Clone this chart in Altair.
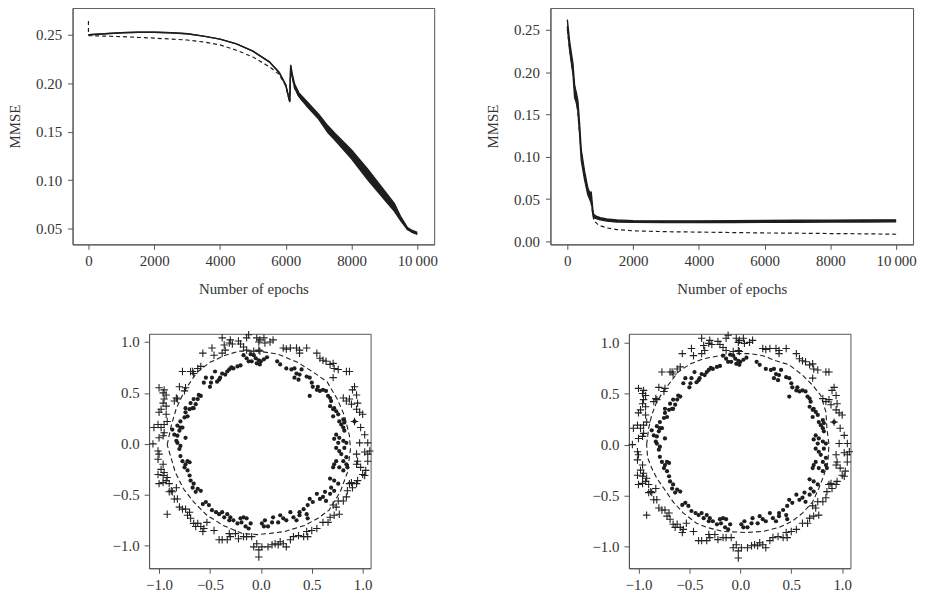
import altair as alt
import pandas as pd

FONT = "Liberation Serif"
INK = "#1e1e1e"
FRAME = "#555555"
TXT = "#333333"

# ---------------- top-left panel (MMSE vs epochs) ----------------
tl_epoch = [0, 20, 500, 1000, 1500, 2000, 2500, 3000, 3500, 4000, 4500, 5000, 5500, 5800, 6000,
            6120, 6150, 6200, 6270, 6400, 6670, 7000, 7280, 7500, 8000, 8500, 9000, 9300, 9500,
            9700, 9850, 10000]
tl_upper = [0.250, 0.250, 0.251, 0.252, 0.2525, 0.2525, 0.252, 0.251, 0.2485, 0.2455, 0.2405,
            0.233, 0.222, 0.211, 0.198, 0.181, 0.219, 0.209, 0.199, 0.190, 0.180, 0.168, 0.156,
            0.148, 0.131, 0.111, 0.089, 0.076, 0.062, 0.051, 0.048, 0.046]
tl_lower = [0.250, 0.250, 0.251, 0.252, 0.2525, 0.2525, 0.252, 0.251, 0.2485, 0.2455, 0.2405,
            0.233, 0.222, 0.211, 0.198, 0.181, 0.217, 0.206, 0.195, 0.186, 0.175, 0.163, 0.149,
            0.141, 0.122, 0.100, 0.080, 0.068, 0.058, 0.049, 0.046, 0.044]
tl_dash_epoch = [0, 0, 20, 1000, 2000, 3000, 3500, 4000, 4500, 5000, 5500, 5800, 6000, 6120, 6150,
                 6200, 6270, 6400, 6670, 7000, 7280, 7500, 8000, 8500, 9000, 9300, 9500, 9700,
                 9850, 10000]
tl_dash = [0.264, 0.250, 0.249, 0.248, 0.2465, 0.2445, 0.2425, 0.2395, 0.234, 0.227, 0.217, 0.209,
           0.197, 0.180, 0.217, 0.206, 0.195, 0.186, 0.176, 0.164, 0.151, 0.143, 0.125, 0.104,
           0.083, 0.071, 0.059, 0.049, 0.046, 0.045]

# ---------------- top-right panel ----------------
tr_epoch = [0, 70, 171, 222, 272, 322, 373, 423, 524, 624, 700, 725, 775, 800, 876, 1000, 1200,
            1500, 2000, 3000, 4000, 5000, 6000, 7000, 8000, 9000, 10000]
tr_upper = [0.262, 0.236, 0.210, 0.184, 0.176, 0.166, 0.139, 0.108, 0.083, 0.063, 0.056, 0.059,
            0.038, 0.032, 0.030, 0.028, 0.0265, 0.0255, 0.0245, 0.0243, 0.0243, 0.0245, 0.0247,
            0.025, 0.0252, 0.0253, 0.0255]
tr_lower = [0.254, 0.226, 0.198, 0.170, 0.164, 0.154, 0.127, 0.096, 0.073, 0.055, 0.048, 0.050,
            0.032, 0.028, 0.027, 0.0255, 0.024, 0.023, 0.0225, 0.0222, 0.0222, 0.0223, 0.0225,
            0.0227, 0.0228, 0.023, 0.0232]
tr_dash_epoch = [0, 100, 200, 300, 400, 500, 600, 700, 790, 800, 900, 1000, 1200, 1500, 2000, 3000,
                 4000, 5000, 6000, 7000, 8000, 9000, 10000]
tr_dash = [0.250, 0.218, 0.190, 0.160, 0.115, 0.082, 0.062, 0.050, 0.030, 0.025, 0.021, 0.0185,
           0.016, 0.014, 0.0125, 0.0115, 0.011, 0.0105, 0.010, 0.0097, 0.0093, 0.009, 0.0085]

# ---------------- scatter data (same in both bottom panels) ----------------
dot_x = [-0.10, -0.07, -0.05, -0.02, 0.00, 0.03, 0.06, -0.14, -0.17, -0.12, -0.09, -0.04, -0.01,
         -0.20, -0.23, -0.27, -0.29, -0.31, -0.33, -0.35, -0.38, -0.40, -0.43, -0.45, -0.48, -0.49,
         -0.50, -0.54, -0.56, -0.41,
         0.16, 0.19, 0.25, 0.30, 0.33, 0.35, 0.38, 0.37, 0.33, 0.40, 0.45, 0.48, 0.50, 0.51, 0.55,
         0.48, 0.56, 0.58, 0.61, 0.64, 0.66, 0.68, 0.69, 0.68, 0.71, 0.72, 0.74, 0.76, 0.71, 0.77,
         0.81, 0.79, 0.82, 0.81, 0.82, 0.74, 0.72, 0.76, 0.77, 0.81, 0.84, 0.74, 0.77, 0.79, 0.82,
         0.84, 0.81, 0.74, 0.72, 0.71, 0.77, 0.81, 0.84, 0.85,
         0.68, 0.72, 0.76, 0.69, 0.72, 0.68, 0.63, 0.61, 0.64, 0.58, 0.55, 0.48, 0.51, 0.46, 0.42,
         0.38, 0.45, 0.46, 0.38, 0.35, 0.32, 0.29, 0.25, 0.22, 0.19, 0.17, 0.12, 0.11, 0.07, 0.03,
         0.04, 0.01,
         -0.10, -0.12, -0.15, -0.19, -0.20, -0.23, -0.27, -0.30, -0.31, -0.33, -0.36, -0.38, -0.41,
         -0.44, -0.48, -0.51, -0.54, -0.57, -0.14, -0.17,
         -0.59, -0.62, -0.64, -0.66, -0.67, -0.69, -0.70, -0.72, -0.75, -0.74, -0.77, -0.72, -0.70,
         -0.79, -0.80, -0.79, -0.83, -0.82, -0.80, -0.74, -0.77, -0.82, -0.79, -0.75, -0.74, -0.70,
         -0.67, -0.66, -0.74, -0.69, -0.66, -0.62, -0.61, -0.59, -0.64, -0.72, -0.79, -0.87, -0.85,
         -0.82, 0.92]
dot_y = [0.88, 0.87, 0.84, 0.82, 0.81, 0.83, 0.85, 0.84, 0.87, 0.81, 0.81, 0.79, 0.78, 0.77, 0.76,
         0.74, 0.75, 0.73, 0.71, 0.68, 0.69, 0.65, 0.61, 0.71, 0.65, 0.60, 0.56, 0.65, 0.60, 0.63,
         0.81, 0.78, 0.74, 0.73, 0.74, 0.69, 0.68, 0.63, 0.65, 0.73, 0.66, 0.65, 0.60, 0.56, 0.53,
         0.47, 0.56, 0.52, 0.53, 0.52, 0.47, 0.45, 0.42, 0.37, 0.34, 0.35, 0.32, 0.29, 0.27, 0.22,
         0.24, 0.19, 0.21, 0.16, 0.13, 0.09, 0.05, 0.01, 0.06, 0.03, 0.01, -0.04, -0.07, -0.10,
         -0.04, -0.13, -0.17, -0.17, -0.20, -0.23, -0.23, -0.26, -0.20, -0.23,
         -0.34, -0.36, -0.39, -0.43, -0.46, -0.49, -0.47, -0.52, -0.56, -0.54, -0.49, -0.54, -0.57,
         -0.60, -0.64, -0.67, -0.69, -0.73, -0.70, -0.75, -0.72, -0.67, -0.75, -0.73, -0.70, -0.77,
         -0.72, -0.77, -0.81, -0.81, -0.75, -0.78,
         -0.78, -0.83, -0.81, -0.77, -0.73, -0.78, -0.75, -0.72, -0.75, -0.69, -0.72, -0.67, -0.69,
         -0.67, -0.65, -0.60, -0.57, -0.59, -0.73, -0.72,
         -0.46, -0.44, -0.47, -0.39, -0.43, -0.36, -0.31, -0.26, -0.23, -0.20, -0.17, -0.17, -0.18,
         -0.12, -0.05, -0.02, 0.03, 0.08, 0.13, 0.06, 0.16, 0.18, 0.22, 0.26, 0.31, 0.34, 0.35, 0.35,
         0.35, 0.40, 0.44, 0.44, 0.48, 0.47, 0.39, 0.27, 0.16, 0.14, 0.09, 0.01, 0.22]

plus_x = [-0.38, -0.30, -0.28, -0.31, -0.22, -0.20, -0.17, -0.14, -0.12, -0.04, -0.02, -0.01, 0.03,
          0.04, 0.09, 0.12, -0.02, -0.01, -0.07, -0.14, -0.35, -0.36, -0.46, -0.48, -0.57, -0.38,
          0.22, 0.25, 0.29, 0.35, 0.38, 0.45, 0.38, 0.55, 0.58, 0.61, 0.64, 0.68, 0.71, 0.72, 0.76,
          0.84, 0.87, 0.71,
          -0.59, -0.62, -0.66, -0.67, -0.77, -0.69, -0.80, -0.75, -0.74, -0.82, -0.85, -0.83, -1.00,
          -0.96, -0.95, -0.93, -0.95, -0.96, -0.93, -1.00, -0.98, -0.93, -1.01, -1.05, -0.98, -0.95,
          -0.92, -0.96, -1.00, -0.95, -1.06, -1.01, -1.00, -1.01, -0.96, -0.98, -1.01, -0.96, -0.95,
          -0.93, -0.96, -0.92, -1.00, -0.90, -0.88, -0.87, -0.83, -0.85, -0.90, -0.82,
          -0.92, -0.80, -0.77, -0.74, -0.70, -0.72, -0.69, -0.66, -0.64, -0.62, -0.59, -0.56, -0.57,
          -0.46, -0.53, -0.41, -0.38, -0.33, -0.30, -0.31, -0.25, -0.22, -0.17, -0.14, -0.09, -0.07,
          -0.04, -0.02, -0.02, 0.01, 0.07, 0.11, 0.14, 0.17, 0.19, 0.22, 0.25, 0.29, 0.32, 0.37,
          0.42, 0.46, 0.45, 0.50, 0.55, 0.61, 0.66, 0.68, 0.72, 0.77, 0.74, 0.71, 0.76, 0.81, 0.84,
          0.85, 0.87, 0.89, 0.90, 0.94, 0.95, 1.00, 1.02, 1.03, 0.98, 1.05, 1.05, 1.07, 1.02, 0.95,
          0.94, 0.94, 0.97, 1.05, 1.02, 0.98, 1.00, 0.97, 0.94, 0.95, 0.89, 0.87, 0.94, 0.90, 0.92,
          0.81, 0.84, 0.92]
plus_y = [1.04, 1.02, 0.98, 0.99, 1.01, 0.98, 0.95, 1.04, 1.07, 1.04, 1.00, 1.02, 1.04, 0.99, 1.00,
          1.02, 0.92, 0.91, 0.91, 0.92, 0.92, 0.97, 0.87, 0.94, 0.89, 0.89, 0.94, 0.93, 0.94, 0.94,
          0.92, 0.94, 0.89, 0.89, 0.84, 0.82, 0.81, 0.78, 0.79, 0.74, 0.73, 0.71, 0.71, 0.65,
          0.76, 0.74, 0.69, 0.71, 0.71, 0.71, 0.56, 0.52, 0.55, 0.44, 0.42, 0.45, 0.55, 0.50, 0.53,
          0.48, 0.44, 0.40, 0.37, 0.31, 0.34, 0.29, 0.19, 0.16, 0.16, 0.19, 0.22, 0.08, 0.06, 0.11,
          0.00, -0.07, -0.10, -0.15, -0.20, -0.25, -0.30, -0.31, -0.28, -0.36, -0.38, -0.33, -0.39,
          -0.39, -0.46, -0.47, -0.43, -0.54, -0.47, -0.54,
          -0.69, -0.62, -0.64, -0.64, -0.67, -0.70, -0.73, -0.78, -0.81, -0.78, -0.81, -0.83, -0.86,
          -0.85, -0.77, -0.94, -0.94, -0.94, -0.91, -0.88, -0.88, -0.93, -0.91, -0.91, -0.91, -1.01,
          -0.98, -1.04, -1.11, -1.01, -1.01, -0.99, -0.98, -0.99, -0.96, -0.98, -1.01, -0.94, -0.91,
          -0.90, -0.91, -0.91, -0.86, -0.85, -0.83, -0.77, -0.77, -0.72, -0.70, -0.69, -0.62, -0.60,
          -0.56, -0.56, -0.52, -0.46, -0.39, -0.38, -0.43, -0.39, -0.36, -0.30, -0.31, -0.26, -0.23,
          -0.17, -0.10, -0.07, -0.08, -0.17, -0.20, -0.10, 0.01, 0.01, 0.09, 0.16, 0.29, 0.31, 0.34,
          0.40, 0.39, 0.44, 0.48, 0.53, 0.56, 0.45, 0.42, 0.22]

# decision boundaries (dashed)
bl_bx = [-0.92, -0.88, -0.83, -0.75, -0.63, -0.50, -0.35, -0.21, -0.03, 0.17, 0.36, 0.52, 0.65,
         0.75, 0.82, 0.87, 0.88, 0.85, 0.78, 0.67, 0.56, 0.43, 0.23, 0.07, -0.03, -0.18, -0.37,
         -0.53, -0.66, -0.76, -0.84, -0.89, -0.92]
bl_by = [-0.01, 0.18, 0.35, 0.52, 0.70, 0.80, 0.87, 0.91, 0.91, 0.88, 0.80, 0.70, 0.61, 0.44, 0.28,
         0.08, -0.05, -0.28, -0.47, -0.65, -0.73, -0.80, -0.86, -0.88, -0.89, -0.88, -0.80, -0.70,
         -0.57, -0.44, -0.28, -0.11, -0.01]
br_bx = [-0.92, -0.90, -0.87, -0.82, -0.75, -0.61, -0.49, -0.36, -0.20, -0.04, 0.09, 0.22, 0.35,
         0.48, 0.61, 0.71, 0.79, 0.84, 0.85, 0.87, 0.86, 0.82, 0.77, 0.71, 0.61, 0.51, 0.38, 0.22,
         0.06, -0.17, -0.33, -0.43, -0.56, -0.66, -0.75, -0.82, -0.87, -0.91, -0.92]
br_by = [0.00, 0.16, 0.29, 0.42, 0.53, 0.71, 0.79, 0.84, 0.87, 0.89, 0.89, 0.87, 0.82, 0.78, 0.68,
         0.58, 0.48, 0.32, 0.16, 0.00, -0.17, -0.30, -0.43, -0.56, -0.67, -0.75, -0.81, -0.85,
         -0.86, -0.85, -0.81, -0.77, -0.67, -0.56, -0.43, -0.33, -0.23, -0.13, 0.00]

epoch_ticks = [0, 2000, 4000, 6000, 8000, 10000]
unit_ticks = [-1.0, -0.5, 0.0, 0.5, 1.0]


def top_panel(ep, up, lo, dep, dval, xdom, ydom, yticks, w, h):
    band = pd.DataFrame({"epoch": ep, "upper": up, "lower": lo})
    dash = pd.DataFrame({"epoch": dep, "mmse": dval, "k": list(range(len(dep)))})
    xscale = alt.Scale(domain=xdom, nice=False, zero=False)
    yscale = alt.Scale(domain=ydom, nice=False, zero=False)
    xaxis = alt.Axis(values=epoch_ticks, title="Number of epochs",
                     labelExpr="datum.value == 10000 ? '10\u2009000' : format(datum.value, 'd')",
                     labelPadding=4, titlePadding=13)
    yaxis = alt.Axis(values=yticks, format=".2f", title="MMSE", labelPadding=6, titlePadding=13)
    X = alt.X("epoch:Q", scale=xscale, axis=xaxis)
    d = alt.Chart(dash).mark_line(color=INK, strokeWidth=1.2, strokeDash=[4, 3]).encode(
        x=X, y=alt.Y("mmse:Q", scale=yscale, axis=yaxis), order="k:Q")
    area = alt.Chart(band).mark_area(color=INK, opacity=1).encode(
        x=X, y=alt.Y("upper:Q", scale=yscale, axis=yaxis), y2="lower:Q")
    l1 = alt.Chart(band).mark_line(color=INK, strokeWidth=1.4).encode(
        x=X, y=alt.Y("upper:Q", scale=yscale, axis=yaxis))
    l2 = alt.Chart(band).mark_line(color=INK, strokeWidth=1.4).encode(
        x=X, y=alt.Y("lower:Q", scale=yscale, axis=yaxis))
    return alt.layer(d, area, l1, l2).properties(width=w, height=h)


def scatter_panel(bx, by, xdom, ydom, w, h):
    dots = pd.DataFrame({"x": dot_x, "y": dot_y})
    plus = pd.DataFrame({"x": plus_x, "y": plus_y})
    bnd = pd.DataFrame({"x": bx, "y": by, "k": list(range(len(bx)))})
    xscale = alt.Scale(domain=xdom, nice=False, zero=False)
    yscale = alt.Scale(domain=ydom, nice=False, zero=False)
    xaxis = alt.Axis(values=unit_ticks, format=".1f", title=None, labelPadding=4)
    yaxis = alt.Axis(values=unit_ticks, format=".1f", title=None, labelPadding=5)
    X = alt.X("x:Q", scale=xscale, axis=xaxis)
    Y = alt.Y("y:Q", scale=yscale, axis=yaxis)
    b = alt.Chart(bnd).mark_line(color=INK, strokeWidth=1.1, strokeDash=[5, 3]).encode(
        x=X, y=Y, order="k:Q")
    p = alt.Chart(plus).mark_point(shape="M-1,0L1,0M0,-1L0,1", filled=False, size=56,
                                   strokeWidth=1.1, color="#222222", opacity=1).encode(x=X, y=Y)
    c = alt.Chart(dots).mark_circle(size=18, color=INK, opacity=1).encode(x=X, y=Y)
    return alt.layer(b, p, c).properties(width=w, height=h)


tl = top_panel(tl_epoch, tl_upper, tl_lower, tl_dash_epoch, tl_dash,
               [-483, 10514], [0.0337, 0.2776], [0.05, 0.10, 0.15, 0.20, 0.25], 364, 238)
tr = top_panel(tr_epoch, tr_upper, tr_lower, tr_dash_epoch, tr_dash,
               [-514, 10514], [-0.0035, 0.2758], [0.00, 0.05, 0.10, 0.15, 0.20, 0.25], 365, 238)

bl = scatter_panel(bl_bx, bl_by, [-1.098, 1.078], [-1.22, 1.08], 223, 236)
br = scatter_panel(br_bx, br_by, [-1.094, 1.081], [-1.21, 1.084], 223, 236)

spacer = alt.Chart(pd.DataFrame({"a": [0]})).mark_point(opacity=0).encode(
    x=alt.X("a:Q", axis=None), y=alt.Y("a:Q", axis=None)
).properties(width=39, height=10, view=alt.ViewBackground(strokeOpacity=0))

top_row = alt.hconcat(tl, tr, spacing=47)
bottom_row = alt.hconcat(spacer, alt.hconcat(bl, br, spacing=216), spacing=0)

chart = alt.vconcat(top_row, bottom_row, spacing=31).properties(
    padding={"left": -1, "top": -3, "right": 2, "bottom": 2}
).configure_axis(
    labelFont=FONT, titleFont=FONT, labelFontSize=15, titleFontSize=15,
    titleFontWeight="normal", labelColor=TXT, titleColor=TXT,
    domainColor=FRAME, tickColor=FRAME, tickSize=5, grid=False
).configure_view(stroke=FRAME, strokeWidth=1)

chart.save("out.html", embed_options={"renderer": "svg", "actions": False})
